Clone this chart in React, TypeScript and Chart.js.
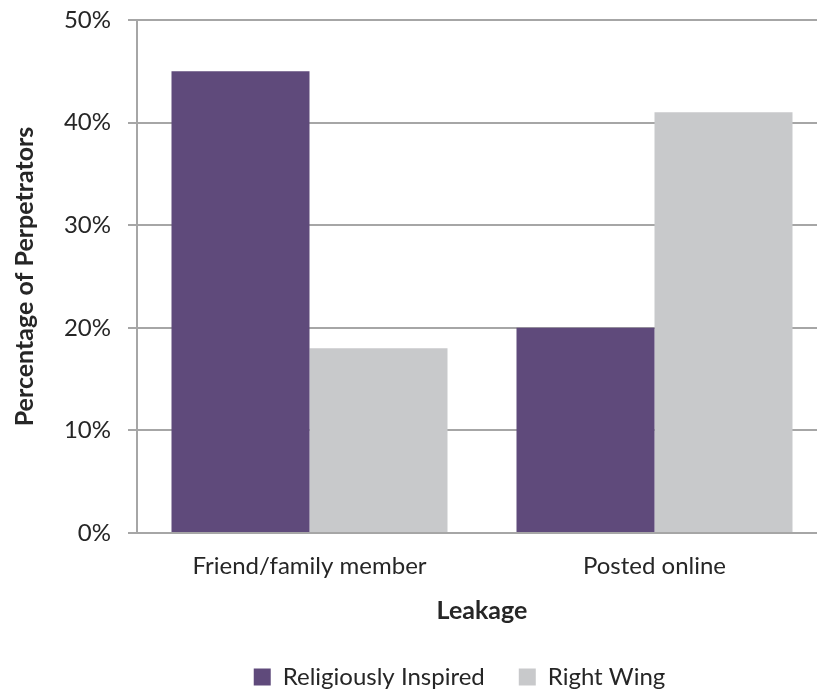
import React, { useEffect, useRef } from "react";
import { Chart, registerables } from "chart.js";

Chart.register(...registerables);

const categories = ["Friend/family member", "Posted online"];
const religiouslyInspired = [45, 20];
const rightWing = [18, 41];
const yTicks = [0, 10, 20, 30, 40, 50];

const FONT = "Lato, 'Open Sans', sans-serif";
const TEXT = "#262626";

const legendShift = {
  id: "legendShift",
  afterLayout(chart: any) {
    if (chart.legend) {
      chart.legend.left += 46;
      chart.legend.right += 46;
    }
  },
};

export default function App() {
  const ref = useRef<HTMLCanvasElement | null>(null);
  useEffect(() => {
    if (!ref.current) return;
    const chart = new Chart(ref.current, {
      type: "bar",
      data: {
        labels: categories,
        datasets: [
          {
            label: "Religiously Inspired",
            data: religiouslyInspired,
            backgroundColor: "#5F4A7B",
            categoryPercentage: 0.8,
            barPercentage: 1.0,
          },
          {
            label: "Right Wing",
            data: rightWing,
            backgroundColor: "#C8C9CB",
            categoryPercentage: 0.8,
            barPercentage: 1.0,
          },
        ],
      },
      plugins: [legendShift],
      options: {
        animation: false,
        responsive: false,
        devicePixelRatio: 1,
        layout: { padding: { top: 20, right: 86, bottom: 0, left: 0 } },
        plugins: {
          legend: {
            position: "bottom",
            labels: {
              boxWidth: 17,
              boxHeight: 17,
              padding: 34,
              color: TEXT,
              font: { family: FONT, size: 24 },
            },
          },
          tooltip: { enabled: false },
        },
        scales: {
          x: {
            afterFit: (scale: any) => {
              scale.height = 98;
            },
            grid: { display: false, drawTicks: false },
            border: { display: true, color: "#A6A6A6", width: 2 },
            ticks: { color: TEXT, padding: 19, font: { family: FONT, size: 24 } },
            title: {
              display: true,
              text: "Leakage",
              color: TEXT,
              font: { family: FONT, size: 25, weight: "bold" },
              padding: { top: 0, bottom: 5 },
            },
          },
          y: {
            min: 0,
            max: 50,
            afterBuildTicks: (scale: any) => {
              scale.ticks = yTicks.map((v) => ({ value: v }));
            },
            afterFit: (scale: any) => {
              scale.width = 137;
              scale.paddingTop = 0;
              scale.paddingBottom = 0;
            },
            grid: {
              color: "#A6A6A6",
              lineWidth: 2,
              drawTicks: true,
              tickLength: 9,
            },
            border: { display: true, color: "#A6A6A6", width: 2 },
            ticks: {
              color: TEXT,
              padding: 17,
              font: { family: FONT, size: 24 },
              callback: (v: any) => v + "%",
            },
            title: {
              display: true,
              text: "Percentage of Perpetrators",
              color: TEXT,
              font: { family: FONT, size: 25, weight: "bold" },
              padding: { top: 10, bottom: 0 },
            },
          },
        },
      },
    });
    return () => chart.destroy();
  }, []);
  return (
    <div style={{ position: "fixed", left: 0, top: 0, width: 817, height: 691, overflow: "hidden", background: "#fff" }}>
      <canvas ref={ref} width={913} height={699} style={{ position: "absolute", left: 0, top: 0, width: 913, height: 699 }} />
    </div>
  );
}
